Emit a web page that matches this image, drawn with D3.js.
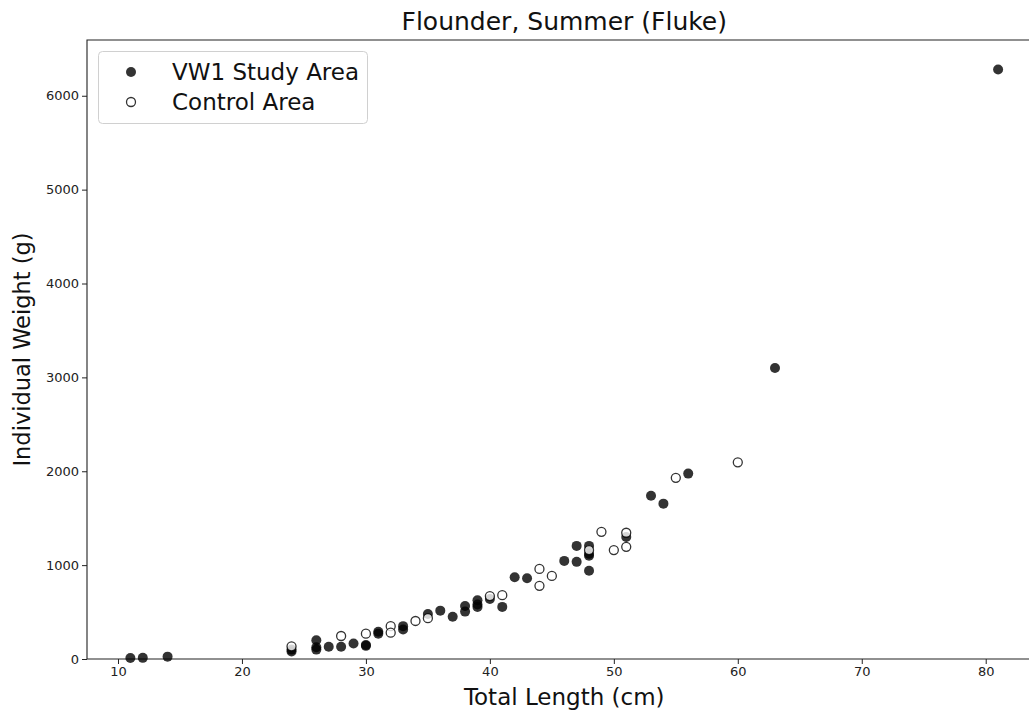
<!DOCTYPE html>
<html>
<head>
<meta charset="utf-8">
<script src="https://cdn.jsdelivr.net/npm/d3@7"></script>
<style>
  html, body { margin: 0; padding: 0; background: #fff; }
  svg { display: block; font-family: "DejaVu Sans", sans-serif; }
</style>
</head>
<body>
<svg id="chart" width="1029" height="713"></svg>
<script>
// Summer flounder length/weight samples: [total length (cm), weight (g)]
const studyArea = [
  [11, 10], [12, 12], [14, 25],
  [24, 80], [24, 100],
  [26, 200], [26, 125], [26, 100],
  [27, 130], [28, 130], [29, 165], [30, 150], [30, 140],
  [31, 290], [31, 270], [33, 350], [33, 315],
  [35, 480], [36, 515], [37, 450], [38, 565], [38, 505],
  [39, 625], [39, 580], [39, 555], [40, 640], [41, 555],
  [42, 870], [43, 860], [46, 1045], [47, 1205], [47, 1035],
  [48, 1205], [48, 1120], [48, 1100], [48, 940],
  [51, 1300], [53, 1740], [54, 1655], [56, 1975], [63, 3100], [81, 6280]
];
const controlArea = [
  [24, 135], [28, 245], [30, 270], [32, 350], [32, 280], [34, 405], [35, 435],
  [40, 670], [41, 680], [44, 960], [44, 780], [45, 885], [48, 1160], [49, 1355],
  [50, 1160], [51, 1345], [51, 1195], [55, 1930], [60, 2095]
];
const xTicks = [10, 20, 30, 40, 50, 60, 70, 80];
const yTicks = [0, 1000, 2000, 3000, 4000, 5000, 6000];
const seriesNames = ["VW1 Study Area", "Control Area"];

const svg = d3.select("#chart");
const plot = { left: 87, right: 1041.5, top: 40, bottom: 659 };

const all = studyArea.concat(controlArea);
const xMin = d3.min(all, d => d[0]), xMax = d3.max(all, d => d[0]);
const xPad = (xMax - xMin) * 0.05;
const yMax = d3.max(all, d => d[1]);

const x = d3.scaleLinear().domain([xMin - xPad, xMax + xPad]).range([plot.left, plot.right]);
const y = d3.scaleLinear().domain([0, yMax * 1.05]).range([plot.bottom, plot.top]);

// Axes
const xAxis = d3.axisBottom(x).tickValues(xTicks).tickSize(5).tickPadding(3).tickFormat(d3.format("d"));
const yAxis = d3.axisLeft(y).tickValues(yTicks).tickSize(5).tickPadding(3).tickFormat(d3.format("d"));

const gx = svg.append("g").attr("transform", `translate(0,${plot.bottom})`).call(xAxis);
const gy = svg.append("g").attr("transform", `translate(${plot.left},0)`).call(yAxis);
[gx, gy].forEach(g => {
  g.select(".domain").remove();
  g.selectAll(".tick line").attr("stroke", "#222").attr("stroke-width", 1);
  g.selectAll(".tick text").attr("fill", "#222").style("font-size", "13px")
    .style("font-family", "'DejaVu Sans', sans-serif");
});

// Spines: left, bottom, top (right one lies beyond the canvas)
svg.append("path")
  .attr("d", `M${plot.right},${plot.top}H${plot.left}V${plot.bottom}H${plot.right}`)
  .attr("fill", "none").attr("stroke", "#222").attr("stroke-width", 1.1);

// Points
const r = 5;
svg.append("g").selectAll("circle").data(studyArea).join("circle")
  .attr("cx", d => x(d[0])).attr("cy", d => y(d[1])).attr("r", r)
  .attr("fill", "#000").attr("fill-opacity", 0.8);

svg.append("g").selectAll("circle").data(controlArea).join("circle")
  .attr("cx", d => x(d[0])).attr("cy", d => y(d[1])).attr("r", r - 0.5)
  .attr("fill", "#fff").attr("fill-opacity", 0.8)
  .attr("stroke", "#000").attr("stroke-opacity", 0.8).attr("stroke-width", 1.3);

// Title and axis labels
svg.append("text").attr("x", (plot.left + plot.right) / 2).attr("y", 30)
  .attr("text-anchor", "middle").style("font-size", "25px").attr("fill", "#111")
  .text("Flounder, Summer (Fluke)");
svg.append("text").attr("x", (plot.left + plot.right) / 2).attr("y", 705)
  .attr("text-anchor", "middle").style("font-size", "23px").attr("fill", "#111")
  .text("Total Length (cm)");
svg.append("text")
  .attr("transform", `translate(30,${(plot.top + plot.bottom) / 2}) rotate(-90)`)
  .attr("text-anchor", "middle").style("font-size", "22.5px").attr("fill", "#111")
  .text("Individual Weight (g)");

// Legend
const lg = svg.append("g");
lg.append("rect").attr("x", 98.5).attr("y", 51.5).attr("width", 269).attr("height", 72)
  .attr("rx", 4).attr("fill", "#fff").attr("fill-opacity", 0.8)
  .attr("stroke", "#d0d0d0").attr("stroke-width", 1);
lg.append("circle").attr("cx", 131).attr("cy", 72).attr("r", 5)
  .attr("fill", "#000").attr("fill-opacity", 0.8);
lg.append("circle").attr("cx", 131).attr("cy", 102).attr("r", 4.5)
  .attr("fill", "#fff").attr("stroke", "#000").attr("stroke-opacity", 0.8).attr("stroke-width", 1.3);
lg.append("text").attr("x", 172).attr("y", 80).style("font-size", "23px").attr("fill", "#111")
  .text(seriesNames[0]);
lg.append("text").attr("x", 172).attr("y", 110).style("font-size", "23px").attr("fill", "#111")
  .text(seriesNames[1]);
</script>
</body>
</html>
